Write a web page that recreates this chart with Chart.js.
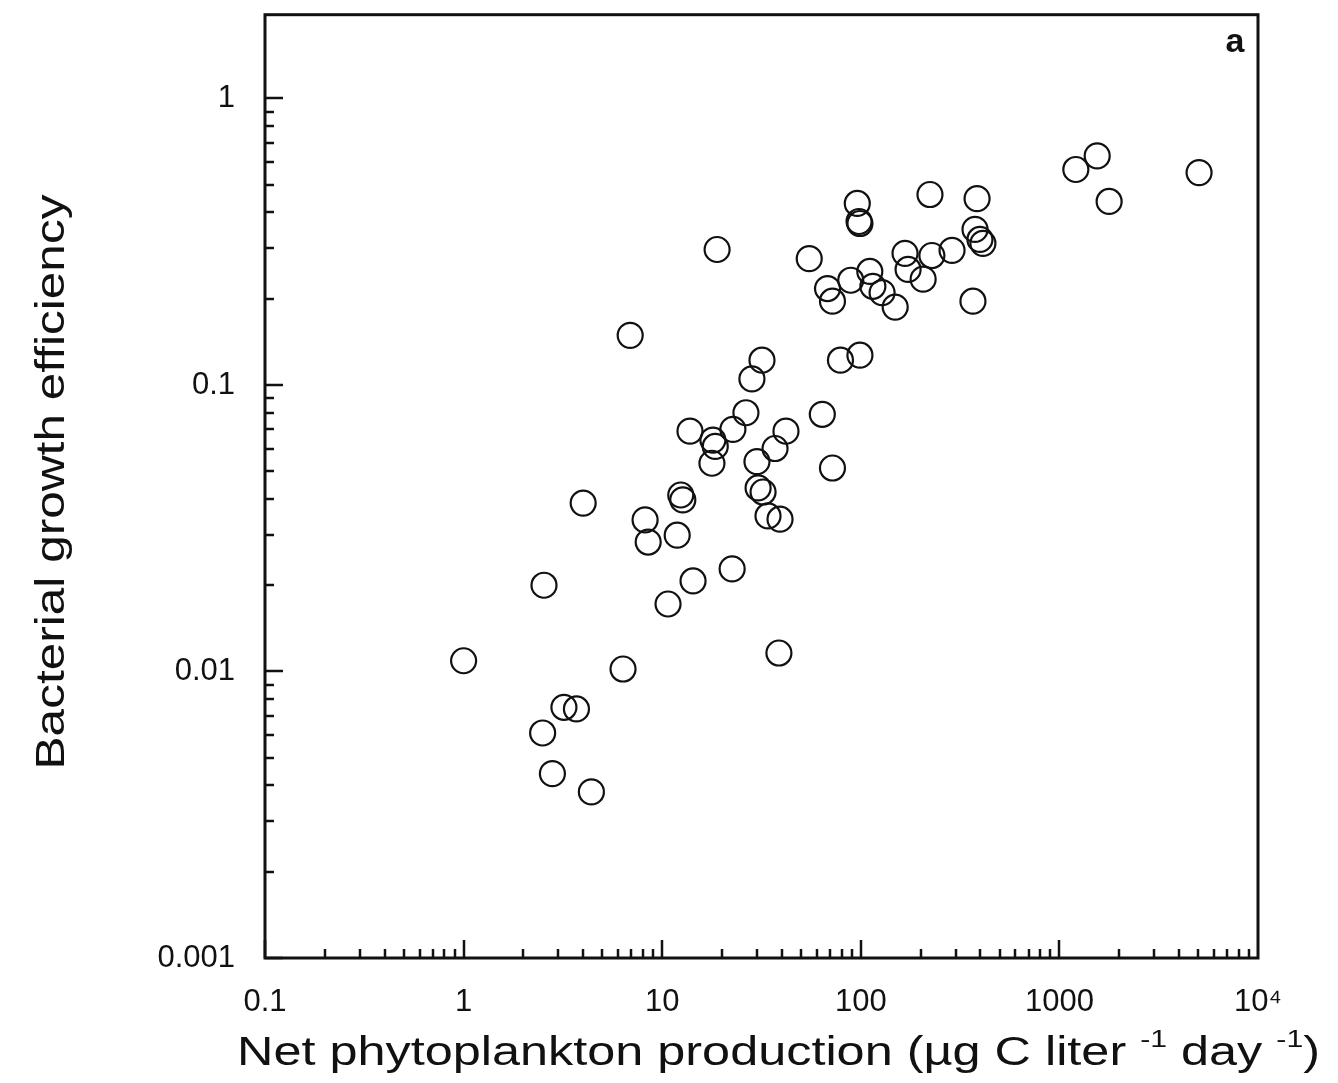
<!DOCTYPE html>
<html>
<head>
<meta charset="utf-8">
<title>Bacterial growth efficiency vs net phytoplankton production</title>
<script src="https://cdn.jsdelivr.net/npm/chart.js@4.4.1/dist/chart.umd.min.js"></script>
<style>
  html, body { margin: 0; padding: 0; background: #fff; }
  canvas { display: block; }
</style>
</head>
<body>
<canvas id="bge" width="1338" height="1083"></canvas>
<script>
// net phytoplankton production (ug C per liter per day)
const production = [1.0, 2.54, 4.0, 6.9, 18.9, 2.5, 3.2, 3.7, 2.8, 4.4,
  6.35, 8.2, 8.5, 10.7, 11.9, 12.4, 12.7, 14.3, 13.8, 18.0,
  18.5, 17.8, 22.7, 26.4, 28.3, 31.8, 30.0, 37.0, 42.0, 30.4,
  32.2, 34.1, 39.2, 22.5, 38.7, 64, 72, 79, 99, 55,
  68, 72, 89, 96, 98, 99, 111, 115, 128, 149,
  167, 173, 206, 223, 228, 288, 385, 376, 398, 412,
  367, 1210, 1550, 1780, 5050];
// bacterial growth efficiency, same order
const efficiency = [0.0109, 0.020, 0.0387, 0.149, 0.297, 0.0061, 0.0075, 0.0074, 0.0044, 0.0038,
  0.0102, 0.0338, 0.0283, 0.0172, 0.0299, 0.0413, 0.0397, 0.0207, 0.069, 0.0642,
  0.061, 0.0533, 0.070, 0.080, 0.105, 0.122, 0.054, 0.060, 0.069, 0.0437,
  0.0423, 0.0349, 0.034, 0.0228, 0.0116, 0.079, 0.0513, 0.122, 0.127, 0.276,
  0.217, 0.196, 0.232, 0.43, 0.372, 0.366, 0.249, 0.221, 0.21, 0.187,
  0.288, 0.253, 0.234, 0.462, 0.283, 0.295, 0.447, 0.349, 0.322, 0.312,
  0.196, 0.565, 0.63, 0.437, 0.551];

const xTickValues = [0.1, 1, 10, 100, 1000, 10000];
const xTickLabels = ['0.1', '1', '10', '100', '1000', '10⁴'];
const yTickValues = [0.001, 0.01, 0.1, 1];
const yTickLabels = ['0.001', '0.01', '0.1', '1'];

// [text, isSuperscript]
const xTitle = [['Net phytoplankton production (µg C liter ', false], ['-1', true], [' day ', false], ['-1', true], [')', false]];
const yTitle = [['Bacterial growth efficiency', false]];
const panelLabel = 'a';

const FONT = '"Liberation Sans", Arial, Helvetica, sans-serif';
const INK = '#111';

function tickLabel(values, labels) {
  return function (value) {
    const i = values.findIndex(v => Math.abs(v - value) / v < 1e-6);
    return i < 0 ? '' : labels[i];
  };
}

// draws text parts stretched along their direction to a given length
function drawTitle(ctx, parts, x, y, size, length, angle, align) {
  ctx.save();
  ctx.translate(x, y);
  ctx.rotate(angle);
  const fontMain = size + 'px ' + FONT;
  const fontSup = Math.round(size * 0.6) + 'px ' + FONT;
  let w = 0;
  parts.forEach(p => { ctx.font = p[1] ? fontSup : fontMain; w += ctx.measureText(p[0]).width; });
  ctx.scale(length / w, 1);
  let cx = align === 'center' ? -w / 2 : 0;
  ctx.fillStyle = INK;
  ctx.textBaseline = 'alphabetic';
  ctx.textAlign = 'left';
  parts.forEach(p => {
    ctx.font = p[1] ? fontSup : fontMain;
    ctx.fillText(p[0], cx, p[1] ? -size * 0.45 : 0);
    cx += ctx.measureText(p[0]).width;
  });
  ctx.restore();
}

const frameAndTicks = {
  id: 'frameAndTicks',
  afterDraw(chart) {
    const {ctx, chartArea: a, scales: {x, y}} = chart;
    ctx.save();
    ctx.strokeStyle = INK;
    ctx.lineWidth = 2.5;
    ctx.beginPath();
    // inward log tick marks, long at each decade
    for (let e = -1; e < 4; e++) {
      for (let m = 1; m <= 9; m++) {
        const v = m * Math.pow(10, e);
        const px = Math.round(x.getPixelForValue(v));
        const len = m === 1 ? 18 : 9;
        ctx.moveTo(px, a.bottom);
        ctx.lineTo(px, a.bottom - len);
      }
    }
    for (let e = -3; e < 1; e++) {
      for (let m = 1; m <= 9; m++) {
        const v = m * Math.pow(10, e);
        if (v > y.max) continue;
        const py = Math.round(y.getPixelForValue(v));
        const len = m === 1 ? 18 : 9;
        ctx.moveTo(a.left, py);
        ctx.lineTo(a.left + len, py);
      }
    }
    ctx.stroke();
    ctx.lineWidth = 3;
    ctx.strokeRect(a.left, a.top, a.right - a.left, a.bottom - a.top);

    ctx.fillStyle = INK;
    ctx.font = 'bold 34px ' + FONT;
    ctx.textAlign = 'center';
    ctx.textBaseline = 'alphabetic';
    ctx.fillText(panelLabel, 1235, 52);
    ctx.restore();

    drawTitle(ctx, xTitle, 237, 1065, 40, 1083, 0, 'left');
    drawTitle(ctx, yTitle, 64, 482, 40, 575, -Math.PI / 2, 'center');
  }
};

new Chart(document.getElementById('bge').getContext('2d'), {
  type: 'scatter',
  data: {
    datasets: [{
      data: production.map((p, i) => ({x: p, y: efficiency[i]})),
      pointStyle: 'circle',
      pointRadius: 12.5,
      pointBorderWidth: 2.2,
      pointBorderColor: INK,
      pointBackgroundColor: 'rgba(0,0,0,0)'
    }]
  },
  options: {
    responsive: false,
    animation: false,
    devicePixelRatio: 1,
    layout: { padding: { left: 0, top: 13, right: 80, bottom: 0 } },
    plugins: { legend: { display: false }, tooltip: { enabled: false } },
    scales: {
      x: {
        type: 'logarithmic',
        min: 0.1,
        max: 10000,
        afterBuildTicks: s => { s.ticks = xTickValues.map(v => ({value: v})); },
        afterFit: s => { s.height = 125; s.paddingLeft = 0; s.paddingRight = 0; },
        grid: { display: false, drawTicks: false },
        border: { display: false },
        ticks: {
          callback: tickLabel(xTickValues, xTickLabels),
          autoSkip: false, maxRotation: 0, padding: 26,
          color: INK, font: { family: FONT, size: 31 }
        }
      },
      y: {
        type: 'logarithmic',
        min: 0.001,
        max: 1.96,
        afterBuildTicks: s => { s.ticks = yTickValues.map(v => ({value: v})); },
        afterFit: s => { s.width = 265; s.paddingTop = 0; s.paddingBottom = 0; },
        grid: { display: false, drawTicks: false },
        border: { display: false },
        ticks: {
          callback: tickLabel(yTickValues, yTickLabels),
          autoSkip: false, padding: 30,
          color: INK, font: { family: FONT, size: 31 }
        }
      }
    }
  },
  plugins: [frameAndTicks]
});
</script>
</body>
</html>
